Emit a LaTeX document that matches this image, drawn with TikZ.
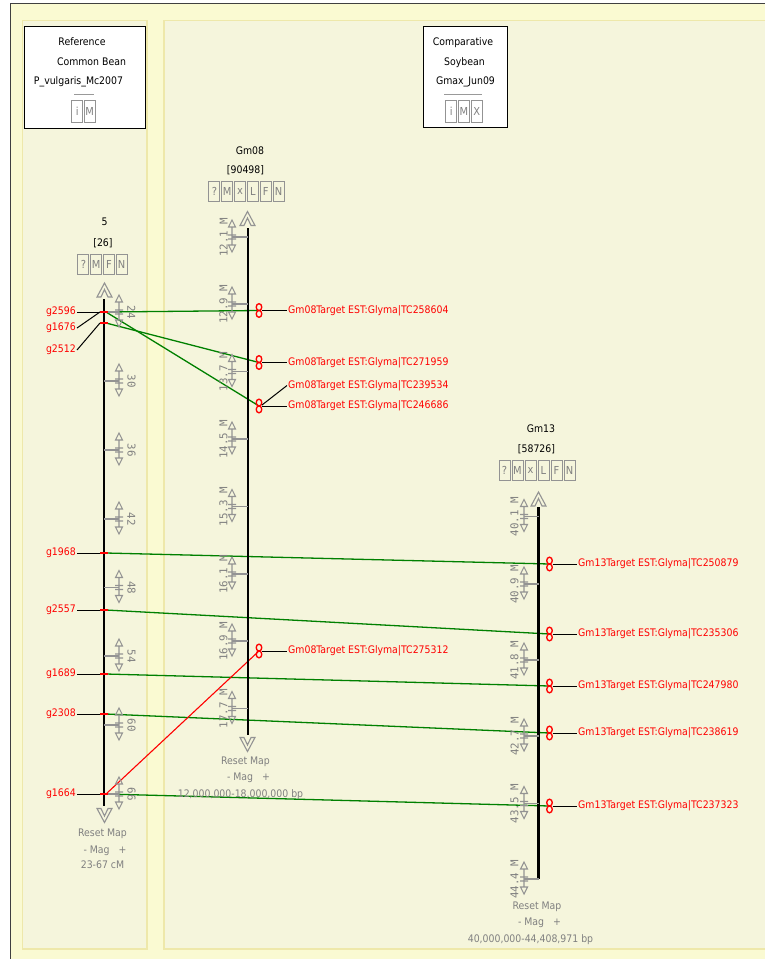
\documentclass[tikz,border=0pt]{standalone}
\usepackage{fontspec}
\setmainfont{DejaVu Sans Condensed}
\setmonofont{DejaVu Sans Mono}
\usepackage{tikz}
\usetikzlibrary{calc}
\definecolor{pagebg}{HTML}{FAFAD2}
\definecolor{panelbg}{HTML}{F5F5DC}
\definecolor{panelrule}{HTML}{EEE8AA}
\definecolor{corrgreen}{HTML}{008000}

\begin{document}
\begin{tikzpicture}[x=1pt, y=-1pt, font=\fontsize{10.4}{12.5}\selectfont,
  panel/.style={fill=panelbg, draw=panelrule, line width=1.5pt},
  hdrbox/.style={draw=black, fill=white, line width=0.9pt, inner sep=0pt},
  btn/.style={draw=gray!85, line width=1pt, text=gray, minimum width=11pt,
    minimum height=20pt, inner sep=0pt, font=\fontsize{11}{12}\selectfont},
  ctl/.style={gray!85, line width=1.1pt},
  ctltxt/.style={text=gray, inner sep=0pt, anchor=base},
  axisline/.style={line width=2.4pt, black},
  ticklbl/.style={text=gray, inner sep=0pt,
    font=\ttfamily\fontsize{10.8}{12}\selectfont},
  featlbl/.style={text=red, inner sep=1pt},
  leader/.style={black, line width=1pt},
  featmark/.style={red, line width=2pt},
  hit/.style={red, line width=1.3pt},
  corr/.style={corrgreen, line width=1.3pt},
  corrred/.style={red, line width=1.1pt},
  pics/uparr/.style={code={
    \draw[ctl] (-7.5,7) -- (0,-7) -- (7.5,7) -- (3.5,7) -- (0,-0.5) -- (-3.5,7) -- cycle;}},
  pics/downarr/.style={code={
    \draw[ctl] (-7.5,-7) -- (0,7) -- (7.5,-7) -- (3.5,-7) -- (0,0.5) -- (-3.5,-7) -- cycle;}},
  pics/zctl/.style={code={
    \draw[ctl] (-3.5,-10) -- (0,-17) -- (3.5,-10) -- cycle
      (0,-10) -- (0,8) (-4,-2) -- (4,-2) (-4,2) -- (4,2)
      (-3.5,8) -- (0,15) -- (3.5,8) -- cycle;}}]

  %% Page and panels
  \path[use as bounding box] (0,0) rectangle (765,959);
  \clip (0,0) rectangle (765,959);
  \fill[white] (0,0) rectangle (765,959);
  \draw[fill=pagebg, draw=black!75, line width=1pt] (10,3) rectangle (800,990);
  \draw[panel] (22.5,20.5) rectangle (147,949);
  \draw[panel] (164,20.5) rectangle (800,949);

  %% Header boxes
  \node[hdrbox, minimum width=121pt, minimum height=102pt] (refhdr) at (84.5,77) {};
  \node[anchor=base] (refl1) at (82,45) {Reference};
  \node[anchor=base] (refl2) at (91.5,65) {Common Bean};
  \node[anchor=base] (refl3) at (78.5,84) {P\_vulgaris\_Mc2007};
  \draw[gray!80, line width=1pt] (74,94) -- (94,94);
  \foreach \t [count=\i] in {i,M}
    \node[btn, minimum height=22pt] (refbtn\i) at ({77.25+12.5*(\i-1)},111) {\t};

  \node[hdrbox, minimum width=84pt, minimum height=101pt] (cmphdr) at (465,76.5) {};
  \node[anchor=base] (cmpl1) at (463,45) {Comparative};
  \node[anchor=base] (cmpl2) at (464.5,65) {Soybean};
  \node[anchor=base] (cmpl3) at (465.5,84) {Gmax\_Jun09};
  \draw[gray!80, line width=1pt] (444,94) -- (482,94);
  \foreach \t [count=\i] in {i,M,X}
    \node[btn, minimum height=22pt] (cmpbtn\i) at ({451.3+12.7*(\i-1)},111) {\t};

  %% Correspondence lines
  \coordinate (pg2596) at (106,312);
  \coordinate (pg1676) at (106,323);
  \foreach \n/\y in {g1968/553, g2557/610, g1689/674, g2308/714, g1664/794}
    \coordinate (p\n) at (106,\y);
  \foreach \n/\y in {258604/310.5, 271959/362.5, 246686/406, 275312/651}
    \coordinate (tc\n) at (259,\y);
  \foreach \n/\y in {250879/564, 235306/634, 247980/686, 238619/733, 237323/806}
    \coordinate (tc\n) at (549.5,\y);
  \draw[corr] (pg2596) -- (tc258604);
  \draw[corr] (pg2596) -- (tc246686);
  \draw[corr] (pg1676) -- (tc271959);
  \draw[corr] (pg1968) -- (tc250879);
  \draw[corr] (pg2557) -- (tc235306);
  \draw[corr] (pg1689) -- (tc247980);
  \draw[corr] (pg2308) -- (tc238619);
  \draw[corr] (pg1664) -- (tc237323);
  \draw[corrred] (pg1664) -- (tc275312);

  %% ── Map 5 (cM)
  \node (t5) at (104.5,222) {5};
  \node (t5n) at (103,243) {[26]};
  \foreach \t [count=\i] in {?,M,F,N}
    \node[btn] (b5-\i) at ({83.4+12.75*(\i-1)},264) {\t};
  \pic at (104.5,290) {uparr};
  \draw[axisline] (104,299) -- (104,806);
  \pic at (104.5,815.5) {downarr};
  \foreach \y/\v in {312/24, 381/30, 450/36, 519/42, 587.5/48, 656/54, 725/60, 794/66}{
    \draw[ctl] (104,\y) -- (119,\y);
    \pic at (119,\y) {zctl};
    \node[ticklbl, rotate=-90] (k5-\v) at (131.5,\y) {\v};
  }
  \foreach \n/\ly/\my in {g2596/312/312, g1676/328/312, g2512/350/323,
      g1968/553/553, g2557/610/610, g1689/674/674, g2308/714/714, g1664/794/794}{
    \node[featlbl, anchor=east] (\n) at (77,\ly) {\n};
    \draw[leader] (\n.east) -- (100,\my);
    \draw[featmark] (100,\my) -- (108,\my);
  }
  \node[ctltxt] (r5a) at (102.5,836) {Reset Map};
  \node[ctltxt] (r5b) at (105,853) {- Mag\hspace{9pt}+};
  \node[ctltxt] (r5c) at (102.5,868) {23-67 cM};

  %% ── Gm08 (bp)
  \node (t8) at (250,151) {Gm08};
  \node (t8n) at (245.5,170.5) {[90498]};
  \foreach \t [count=\i] in {?,M,x,L,F,N}
    \node[btn] (b8-\i) at ({214.4+12.83*(\i-1)},191.5) {\t};
  \pic at (247.5,218.5) {uparr};
  \draw[axisline] (248,228) -- (248,735);
  \pic at (247.5,744.5) {downarr};
  \foreach \y/\v [count=\i] in {237/12.1, 304/12.9, 371.5/13.7, 439/14.5,
      506.5/15.3, 574/16.1, 641/16.9, 708.5/17.7}{
    \draw[ctl] (232,\y) -- (248,\y);
    \pic at (232,\y) {zctl};
    \node[ticklbl, rotate=90] (k8-\i) at (223.5,\y) {\v\ M};
  }
  \foreach \n/\y in {258604/310.5, 271959/362.5, 246686/406, 275312/651}{
    \draw[hit] (259,\y-3.4) ellipse (2.8pt and 3.4pt) (259,\y+3.4) ellipse (2.8pt and 3.4pt);
    \node[featlbl, anchor=west] (l\n) at (287,\y) {Gm08Target EST:Glyma|TC\n};
    \draw[leader] (262,\y) -- (l\n.west);
  }
  \node[featlbl, anchor=west] (l239534) at (287,385.5) {Gm08Target EST:Glyma|TC239534};
  \draw[leader] (l239534.west) -- (262,405);
  \node[ctltxt] (r8a) at (245.5,764) {Reset Map};
  \node[ctltxt] (r8b) at (248.5,780.5) {- Mag\hspace{9pt}+};
  \node[ctltxt] (r8c) at (240.5,797) {12,000,000-18,000,000 bp};

  %% ── Gm13 (bp)
  \node (t13) at (541,429) {Gm13};
  \node (t13n) at (536.5,449) {[58726]};
  \foreach \t [count=\i] in {?,M,x,L,F,N}
    \node[btn] (b13-\i) at ({504.5+13*(\i-1)},470.5) {\t};
  \pic at (538.5,499) {uparr};
  \draw[axisline] (538.5,507) -- (538.5,879);
  \foreach \y/\v [count=\i] in {516.5/40.1, 584/40.9, 660/41.8, 736/42.7,
      803.5/43.5, 879/44.4}{
    \draw[ctl] (524,\y) -- (538.5,\y);
    \pic at (524,\y) {zctl};
    \node[ticklbl, rotate=90] (k13-\i) at (514.5,\y) {\v\ M};
  }
  \foreach \n/\y in {250879/564, 235306/634, 247980/686, 238619/733, 237323/806}{
    \draw[hit] (549.5,\y-3.4) ellipse (2.8pt and 3.4pt) (549.5,\y+3.4) ellipse (2.8pt and 3.4pt);
    \node[featlbl, anchor=west] (l\n) at (577,\y) {Gm13Target EST:Glyma|TC\n};
    \draw[leader] (552.5,\y) -- (l\n.west);
  }
  \node[ctltxt] (r13a) at (537,909) {Reset Map};
  \node[ctltxt] (r13b) at (539.5,925.5) {- Mag\hspace{9pt}+};
  \node[ctltxt] (r13c) at (530.5,942.5) {40,000,000-44,408,971 bp};

\end{tikzpicture}
\end{document}
